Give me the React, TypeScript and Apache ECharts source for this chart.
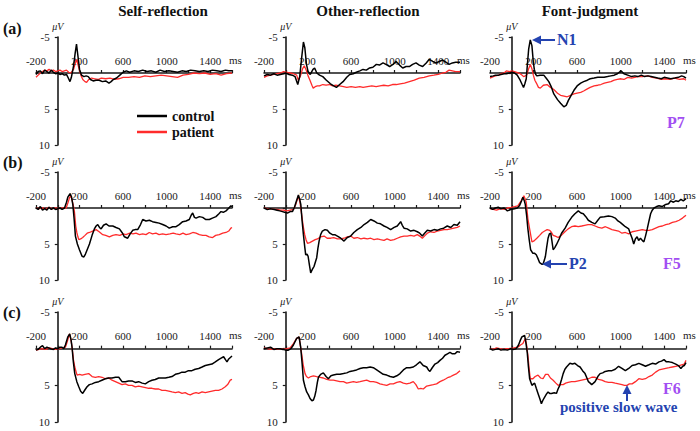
import React, { useEffect, useRef } from "react";
import * as echarts from "echarts";

// ---------- data: [time (ms), amplitude (µV)] ----------
const selfA_control = [[-200,0.2],[-180,-0.2],[-160,-0.3],[-140,0.1],[-120,-0.4],[-100,-0.2],[-80,0.0],[-60,-0.4],[-40,-0.1],[-20,0.1],[0,0.0],[20,0.2],[40,0.1],[60,0.3],[80,0.2],[100,0.8],[112,1.2],[125,0.6],[145,-1.0],[160,-2.8],[172,-4.0],[184,-2.5],[200,-0.5],[218,0.3],[240,0.5],[260,0.4],[280,0.5],[300,0.9],[325,1.1],[350,1.0],[380,1.0],[410,1.2],[440,1.1],[470,1.4],[490,1.2],[510,0.9],[540,0.7],[570,0.3],[600,-0.1],[630,-0.3],[660,-0.1],[700,-0.3],[740,-0.2],[780,-0.4],[820,-0.2],[860,-0.3],[900,-0.1],[940,-0.4],[980,-0.2],[1020,-0.3],[1060,-0.2],[1100,-0.1],[1140,-0.3],[1180,-0.2],[1220,-0.4],[1260,-0.3],[1300,-0.2],[1340,-0.3],[1380,-0.2],[1420,-0.4],[1460,-0.3],[1500,-0.2],[1540,-0.4],[1570,-0.3],[1600,-0.3]];
const selfA_patient = [[-200,0.6],[-180,0.3],[-160,0.0],[-140,-0.2],[-120,-0.4],[-100,-0.3],[-80,-0.5],[-60,-0.3],[-40,-0.4],[-20,-0.2],[0,-0.3],[20,-0.4],[40,-0.2],[60,-0.3],[80,-0.4],[100,-0.1],[120,0.0],[145,-0.5],[160,-1.3],[172,-1.9],[185,-1.2],[198,-0.4],[215,0.4],[230,0.9],[250,1.2],[265,1.3],[285,0.9],[310,0.7],[340,0.8],[370,0.9],[400,0.7],[440,0.8],[480,0.7],[520,0.9],[560,0.8],[600,0.6],[650,0.6],[700,0.5],[750,0.6],[800,0.4],[850,0.5],[900,0.4],[950,0.3],[1000,0.4],[1050,0.5],[1100,0.6],[1150,0.3],[1200,0.2],[1250,0.0],[1300,0.1],[1350,0.0],[1400,0.2],[1450,0.1],[1500,0.3],[1550,0.1],[1600,0.0]];

const otherA_control = [[-200,0.4],[-170,0.2],[-140,0.3],[-110,0.1],[-80,0.3],[-50,0.2],[-20,0.1],[0,0.0],[30,0.2],[60,0.3],[85,0.5],[110,1.6],[128,0.5],[145,-2.0],[162,-4.3],[175,-3.5],[190,-1.2],[205,-0.2],[225,0.2],[250,-0.5],[265,-0.7],[285,0.0],[310,0.3],[340,0.5],[373,1.0],[410,1.5],[440,1.8],[465,2.0],[495,1.6],[526,1.2],[560,0.6],[587,0.2],[620,0.1],[648,-0.1],[680,-0.3],[709,-0.5],[740,-0.4],[770,-0.7],[800,-0.8],[832,-1.2],[860,-1.1],[893,-1.4],[920,-1.2],[954,-0.9],[985,-1.2],[1013,-1.6],[1045,-1.1],[1074,-0.7],[1105,-0.9],[1135,-0.9],[1165,-1.2],[1196,-1.4],[1226,-1.1],[1257,-0.9],[1290,-1.4],[1318,-1.9],[1350,-1.6],[1379,-1.4],[1410,-1.6],[1440,-1.8],[1470,-1.5],[1500,-1.2],[1530,-1.4],[1560,-1.5],[1600,-1.5]];
const otherA_patient = [[-200,0.6],[-170,0.4],[-140,0.3],[-110,0.2],[-80,0.1],[-50,0.0],[-20,-0.2],[10,-0.1],[40,0.0],[70,0.1],[100,0.3],[115,1.0],[135,0.4],[155,-0.6],[170,-1.0],[185,-0.5],[205,0.4],[222,1.0],[240,1.7],[252,2.1],[270,1.9],[290,1.8],[310,1.8],[340,1.6],[370,1.7],[400,1.6],[430,1.8],[460,1.7],[495,1.8],[530,1.9],[560,2.0],[600,1.9],[640,2.0],[680,1.9],[710,2.0],[750,1.9],[790,1.8],[830,1.9],[865,1.8],[900,1.7],[940,1.8],[980,1.6],[1015,1.6],[1050,1.5],[1090,1.4],[1135,1.2],[1180,1.0],[1226,0.7],[1270,0.6],[1318,0.4],[1360,0.3],[1400,0.2],[1440,0.0],[1470,-0.1],[1500,-0.4],[1530,-0.3],[1560,-0.2],[1600,-0.2]];

const fontA_control = [[-200,0.5],[-170,0.4],[-150,0.3],[-120,0.3],[-100,0.2],[-70,0.1],[-50,0.1],[-20,0.0],[0,-0.1],[25,0.0],[50,0.3],[77,1.0],[95,1.6],[108,2.0],[120,1.5],[133,0.8],[145,-1.5],[155,-3.3],[170,-4.6],[185,-3.8],[198,-1.5],[207,-0.5],[220,0.2],[232,0.4],[260,0.3],[294,0.3],[320,0.8],[340,1.2],[365,2.0],[386,2.9],[420,3.7],[448,4.2],[478,4.7],[500,4.5],[520,3.8],[545,3.1],[571,2.4],[600,1.8],[633,1.4],[660,1.2],[694,1.0],[720,0.8],[756,0.7],[790,0.6],[820,0.6],[848,0.6],[880,0.5],[910,0.4],[941,0.3],[970,0.1],[1003,-0.3],[1030,0.1],[1065,0.3],[1100,0.5],[1130,0.4],[1157,0.5],[1190,0.3],[1220,0.5],[1250,0.4],[1280,0.5],[1310,0.6],[1340,0.7],[1373,0.8],[1400,0.6],[1430,0.7],[1460,0.8],[1497,0.7],[1530,0.6],[1560,0.4],[1580,0.5],[1600,0.7]];
const fontA_patient = [[-200,0.7],[-170,0.5],[-150,0.4],[-120,0.3],[-100,0.1],[-70,0.0],[-50,-0.3],[-20,-0.2],[0,-0.3],[25,-0.2],[46,-0.1],[77,0.1],[95,0.3],[108,0.5],[125,0.4],[139,0.2],[155,-0.6],[170,-1.2],[185,-0.6],[198,0.3],[212,1.0],[226,1.4],[245,2.0],[262,2.1],[290,1.7],[324,1.6],[355,2.0],[386,2.3],[420,2.8],[448,3.1],[480,3.2],[509,3.3],[540,3.1],[571,2.9],[600,2.8],[633,2.7],[660,2.5],[694,2.2],[720,2.0],[756,1.8],[790,1.7],[818,1.6],[850,1.4],[879,1.3],[910,1.2],[941,1.0],[970,0.9],[1003,0.8],[1030,0.9],[1065,0.6],[1100,0.7],[1130,0.6],[1157,0.5],[1200,0.5],[1250,0.4],[1290,0.6],[1330,0.7],[1373,0.9],[1410,0.8],[1450,0.9],[1497,0.7],[1540,0.9],[1580,0.8],[1600,1.0]];

const selfB_control = [[-200,0.0],[-180,0.2],[-160,-0.2],[-140,0.3],[-120,0.1],[-100,0.3],[-80,-0.1],[-60,0.2],[-40,0.0],[-20,0.2],[0,0.1],[20,0.0],[40,0.2],[62,0.0],[80,-0.8],[92,-1.5],[113,-2.0],[125,-1.6],[138,-0.5],[150,1.5],[162,3.9],[180,5.0],[199,5.8],[223,6.7],[240,6.8],[254,6.4],[270,5.8],[291,5.0],[315,3.8],[336,2.9],[352,2.5],[367,2.3],[383,2.7],[398,2.9],[420,2.4],[444,2.2],[470,2.5],[505,2.5],[535,2.7],[566,2.9],[590,3.4],[612,4.0],[642,4.2],[665,3.6],[688,3.1],[710,3.0],[734,3.0],[760,2.3],[780,1.6],[810,1.8],[841,1.7],[870,1.9],[902,2.0],[930,2.1],[963,2.3],[995,2.5],[1024,2.8],[1055,2.6],[1086,2.6],[1115,2.3],[1147,1.9],[1178,1.8],[1208,1.6],[1225,1.0],[1239,0.7],[1255,1.3],[1270,1.4],[1300,1.2],[1331,1.3],[1360,1.6],[1392,1.6],[1420,1.4],[1453,1.2],[1480,0.8],[1499,0.5],[1520,0.6],[1545,0.4],[1565,0.1],[1590,-0.3],[1600,-0.2]];
const selfB_patient = [[-200,0.0],[-170,0.1],[-140,0.0],[-110,0.1],[-80,-0.1],[-50,0.1],[-20,0.0],[10,0.1],[40,0.0],[77,0.0],[95,-0.8],[107,-1.4],[118,-1.7],[130,-1.2],[145,-0.2],[153,0.5],[165,2.5],[175,3.4],[185,4.0],[193,4.4],[210,4.3],[229,4.1],[250,3.8],[270,3.5],[291,3.4],[320,3.2],[352,3.0],[380,3.3],[413,3.7],[440,3.8],[474,4.0],[505,3.8],[535,3.7],[570,3.8],[600,3.6],[627,3.7],[660,3.5],[690,3.6],[719,3.5],[750,3.7],[780,3.6],[810,3.7],[840,3.4],[870,3.6],[902,3.5],[930,3.7],[963,3.6],[994,3.7],[1030,3.6],[1060,3.5],[1086,3.6],[1120,3.7],[1150,3.5],[1178,3.7],[1210,3.6],[1240,3.4],[1270,3.5],[1300,3.7],[1331,3.8],[1361,3.8],[1390,4.0],[1422,4.1],[1450,3.8],[1483,3.7],[1515,3.5],[1545,3.4],[1570,3.2],[1590,2.8],[1600,2.7]];

const otherB_control = [[-200,0.0],[-170,0.2],[-140,0.1],[-106,0.2],[-80,0.3],[-55,0.4],[-31,0.5],[-10,0.6],[15,0.7],[40,0.5],[61,0.5],[80,-0.1],[92,-0.7],[116,-1.8],[128,-1.2],[138,-0.5],[150,1.8],[162,3.7],[175,5.5],[183,6.5],[195,6.4],[205,6.7],[218,8.0],[229,9.0],[245,8.5],[260,8.1],[272,7.5],[284,6.9],[295,5.6],[306,4.6],[320,3.7],[336,3.2],[360,3.0],[382,3.1],[405,3.5],[428,3.7],[450,3.7],[474,3.9],[505,4.2],[535,4.6],[565,4.1],[596,3.9],[625,3.4],[657,3.0],[690,2.7],[719,2.3],[750,2.0],[780,1.6],[810,1.8],[841,2.1],[870,2.2],[902,2.5],[930,2.7],[963,3.0],[995,2.7],[1024,2.5],[1040,2.2],[1055,1.9],[1070,2.4],[1086,2.8],[1115,2.9],[1147,3.2],[1178,3.1],[1208,3.3],[1230,3.5],[1254,3.9],[1275,3.5],[1300,3.1],[1330,3.2],[1361,3.0],[1390,3.1],[1422,2.9],[1450,2.8],[1483,2.5],[1515,2.7],[1544,2.3],[1575,2.4],[1600,1.9]];
const otherB_patient = [[-200,0.0],[-170,0.1],[-140,0.1],[-110,0.2],[-80,0.2],[-50,0.3],[-20,0.3],[10,0.4],[40,0.3],[70,0.2],[92,-0.5],[116,-1.7],[130,-0.8],[144,0.7],[160,2.5],[174,3.7],[186,4.4],[199,4.9],[220,4.8],[245,4.6],[270,4.4],[291,4.3],[320,4.0],[352,3.9],[380,4.2],[413,4.2],[440,4.1],[474,4.3],[505,4.3],[535,4.2],[565,4.0],[596,3.9],[625,4.2],[657,4.1],[690,4.3],[719,4.2],[750,4.3],[780,4.2],[810,4.4],[841,4.3],[870,4.4],[902,4.5],[930,4.3],[963,4.5],[995,4.4],[1024,4.2],[1055,4.0],[1086,3.9],[1115,3.9],[1147,3.8],[1178,3.9],[1208,3.7],[1230,3.9],[1254,4.2],[1280,3.8],[1300,3.5],[1331,3.3],[1361,3.4],[1390,3.2],[1422,3.1],[1453,3.0],[1483,3.0],[1515,2.9],[1544,2.8],[1575,2.7],[1600,2.5]];

const fontB_control = [[-200,0.0],[-175,0.2],[-150,0.0],[-125,-0.1],[-100,0.1],[-70,0.0],[-40,0.4],[-10,0.2],[25,0.1],[50,0.0],[70,-0.3],[90,-1.0],[102,-1.5],[115,-1.0],[124,-0.5],[136,1.0],[148,2.9],[160,4.4],[173,5.8],[194,6.3],[210,6.3],[225,6.5],[240,7.0],[256,7.6],[275,7.8],[287,7.8],[300,7.2],[309,6.7],[320,5.5],[333,4.2],[345,3.6],[358,3.5],[368,4.5],[380,5.8],[395,5.5],[410,5.1],[435,4.3],[457,3.5],[490,2.8],[518,2.0],[550,1.3],[580,0.8],[611,0.4],[635,0.7],[657,0.8],[680,1.2],[703,1.7],[735,2.0],[765,2.2],[790,1.7],[811,1.3],[850,1.2],[888,1.1],[920,1.2],[950,1.4],[975,1.8],[996,2.0],[1020,2.3],[1043,2.6],[1074,2.9],[1090,3.6],[1105,4.2],[1120,5.0],[1135,4.3],[1151,4.0],[1165,4.5],[1182,4.2],[1198,4.5],[1213,4.7],[1228,3.9],[1244,2.9],[1260,1.8],[1275,0.8],[1290,0.3],[1306,0.0],[1330,-0.2],[1352,-0.3],[1380,-0.2],[1414,-0.5],[1440,-0.6],[1460,-1.0],[1485,-0.8],[1506,-1.0],[1530,-0.9],[1553,-1.2],[1575,-1.0],[1600,-1.3]];
const fontB_patient = [[-200,0.1],[-170,0.2],[-140,0.3],[-100,0.1],[-70,0.2],[-40,0.0],[-7,-0.1],[25,-0.2],[55,-0.3],[86,-1.0],[111,-1.7],[122,-1.3],[133,-0.8],[148,1.5],[164,2.9],[185,4.7],[200,4.6],[210,4.5],[230,4.2],[256,3.8],[280,3.4],[302,3.2],[325,3.0],[349,3.1],[365,3.4],[380,3.8],[400,3.9],[426,4.1],[455,3.8],[488,3.3],[518,2.9],[549,2.6],[580,2.5],[611,2.6],[642,2.5],[670,2.4],[700,2.3],[734,2.3],[765,2.5],[796,2.7],[827,2.8],[860,2.6],[890,2.8],[920,3.0],[950,3.1],[980,3.2],[1012,3.5],[1043,3.4],[1074,3.6],[1105,3.3],[1136,3.2],[1167,3.1],[1198,3.0],[1230,3.1],[1260,3.1],[1290,3.0],[1321,2.8],[1352,2.6],[1383,2.5],[1414,2.3],[1445,2.2],[1475,2.0],[1506,1.9],[1537,1.7],[1568,1.4],[1600,1.0]];

const selfC_control = [[-200,0.2],[-180,0.1],[-160,-0.2],[-140,-0.4],[-120,0.0],[-100,-0.2],[-66,0.0],[-40,0.1],[-20,-0.1],[0,0.0],[20,-0.2],[39,-0.2],[55,0.0],[70,-0.5],[92,-1.6],[110,-2.0],[122,-1.2],[131,-0.2],[143,1.8],[156,3.4],[175,4.5],[193,5.2],[210,5.8],[229,6.1],[250,5.6],[269,5.2],[290,4.9],[315,4.8],[345,4.6],[376,4.5],[405,4.3],[437,4.1],[468,4.0],[498,4.0],[530,3.9],[560,3.9],[590,4.5],[621,4.5],[650,4.4],[682,4.4],[712,4.6],[743,4.5],[775,4.7],[804,4.8],[835,4.5],[865,4.3],[895,4.2],[927,4.0],[958,4.0],[988,4.0],[1020,3.9],[1049,3.8],[1080,3.5],[1110,3.4],[1140,3.2],[1171,3.2],[1200,3.0],[1232,3.0],[1262,2.8],[1294,2.7],[1325,2.5],[1355,2.3],[1385,2.2],[1416,2.1],[1447,1.8],[1477,1.5],[1500,1.3],[1523,1.1],[1540,1.5],[1554,1.8],[1570,1.4],[1600,1.0]];
const selfC_patient = [[-200,0.2],[-170,0.1],[-140,0.0],[-110,0.1],[-80,-0.1],[-50,0.0],[-20,0.1],[10,0.0],[40,-0.1],[70,-0.2],[86,-0.9],[107,-2.0],[120,-1.3],[131,-0.2],[144,1.5],[156,2.5],[177,3.6],[200,3.5],[223,3.6],[250,3.5],[284,3.4],[315,3.8],[345,3.9],[376,3.8],[407,3.9],[437,4.1],[468,4.0],[498,4.3],[529,4.5],[560,4.7],[590,4.9],[620,4.8],[650,5.0],[682,5.0],[712,5.2],[743,5.1],[774,5.2],[805,5.3],[835,5.4],[865,5.4],[895,5.5],[927,5.5],[957,5.7],[988,5.7],[1020,5.8],[1049,5.9],[1080,6.0],[1110,5.9],[1141,6.1],[1170,6.0],[1195,6.2],[1217,6.3],[1245,6.1],[1270,6.0],[1294,6.1],[1325,5.9],[1355,6.0],[1385,5.9],[1416,5.8],[1447,5.7],[1477,5.7],[1508,5.5],[1538,5.2],[1560,4.9],[1584,4.3],[1600,4.2]];

const otherC_control = [[-200,0.0],[-170,-0.1],[-140,-0.2],[-110,0.1],[-80,0.0],[-52,0.0],[-25,0.1],[0,0.2],[24,0.2],[48,0.0],[70,-0.5],[100,-1.4],[122,-1.6],[137,-0.2],[150,2.0],[162,4.3],[177,5.2],[192,5.9],[208,6.3],[223,6.8],[240,7.1],[254,7.0],[266,6.5],[278,5.7],[290,4.6],[300,3.9],[320,3.5],[345,3.3],[370,3.8],[391,4.1],[415,3.7],[437,3.6],[468,3.5],[498,3.5],[530,3.4],[560,3.3],[590,3.1],[621,3.0],[650,2.9],[682,2.7],[712,2.6],[743,2.6],[775,2.5],[804,2.6],[835,2.9],[865,3.2],[895,3.5],[927,3.6],[958,3.8],[988,3.9],[1020,3.7],[1049,3.4],[1080,2.9],[1110,2.6],[1140,2.6],[1171,2.5],[1200,2.2],[1232,1.8],[1262,2.3],[1294,2.5],[1310,2.9],[1324,3.1],[1345,2.6],[1370,2.1],[1395,1.9],[1416,1.6],[1440,1.3],[1462,0.9],[1485,0.7],[1508,0.5],[1530,0.7],[1554,0.7],[1575,0.4],[1600,0.5]];
const otherC_patient = [[-200,-0.1],[-170,0.0],[-140,0.1],[-110,0.0],[-80,0.1],[-50,0.0],[-20,0.1],[10,0.0],[40,-0.1],[70,-0.7],[100,-1.4],[122,-1.6],[135,-0.3],[146,0.7],[160,2.2],[177,3.4],[190,3.8],[208,4.0],[230,3.8],[254,3.7],[284,3.8],[315,3.9],[345,4.0],[376,4.2],[407,4.3],[437,4.3],[468,4.4],[498,4.5],[530,4.5],[560,4.7],[590,4.6],[621,4.5],[650,4.6],[682,4.5],[712,4.4],[743,4.3],[775,4.5],[804,4.5],[835,4.6],[865,4.8],[895,4.9],[927,5.0],[958,4.8],[988,4.8],[1020,4.6],[1049,4.5],[1080,4.7],[1110,4.8],[1140,4.7],[1171,4.5],[1195,4.9],[1217,5.5],[1240,5.4],[1263,5.5],[1294,5.1],[1324,5.0],[1355,4.9],[1385,4.8],[1416,4.5],[1446,4.3],[1470,4.1],[1493,3.9],[1515,3.8],[1539,3.6],[1570,3.4],[1600,3.0]];

const fontC_control = [[-200,0.0],[-175,0.2],[-150,0.1],[-125,0.0],[-100,0.2],[-70,0.1],[-40,0.2],[-10,0.0],[20,0.1],[40,0.0],[62,-0.5],[80,-1.2],[93,-1.6],[118,-1.8],[130,-0.8],[142,0.5],[153,2.5],[164,4.1],[185,5.0],[200,4.8],[210,4.7],[225,5.4],[241,6.1],[257,6.8],[272,7.5],[287,7.0],[302,6.6],[318,6.2],[333,5.9],[348,6.1],[364,6.1],[390,6.0],[410,6.1],[425,5.5],[441,5.0],[457,4.2],[472,3.4],[488,2.8],[503,2.5],[534,2.0],[557,2.1],[580,2.0],[604,2.3],[627,2.5],[650,3.0],[673,3.4],[690,4.0],[704,4.5],[720,4.7],[734,4.9],[750,4.7],[765,4.5],[790,3.8],[811,3.4],[835,3.3],[858,3.1],[890,3.0],[920,3.0],[950,2.8],[981,2.4],[1012,2.7],[1043,3.0],[1074,2.7],[1105,2.3],[1136,2.2],[1167,2.0],[1198,2.2],[1228,2.4],[1260,2.2],[1290,2.0],[1321,2.1],[1352,1.8],[1375,1.7],[1398,1.5],[1420,1.8],[1445,1.8],[1475,1.9],[1506,2.1],[1530,2.3],[1553,2.7],[1570,2.4],[1584,2.3],[1600,1.9]];
const fontC_patient = [[-200,0.0],[-170,0.1],[-140,-0.1],[-110,0.0],[-80,0.1],[-50,0.0],[-20,0.0],[20,-0.1],[55,-0.2],[80,-0.5],[102,-0.7],[124,-1.4],[136,-0.5],[148,0.9],[160,2.8],[170,4.1],[194,4.1],[215,3.8],[241,3.6],[265,4.0],[287,4.1],[310,3.5],[333,3.5],[355,4.0],[380,4.3],[405,4.7],[426,5.0],[450,4.9],[472,4.9],[495,4.7],[518,4.6],[549,4.5],[580,4.5],[611,4.4],[642,4.3],[673,4.2],[704,4.1],[735,3.9],[765,3.9],[796,4.2],[827,4.3],[858,4.5],[888,4.6],[920,4.6],[950,4.7],[981,4.8],[1012,4.9],[1035,5.0],[1058,5.0],[1080,4.8],[1105,4.8],[1136,4.5],[1167,4.1],[1198,4.2],[1228,4.1],[1260,3.8],[1290,3.6],[1321,3.2],[1352,2.9],[1383,2.8],[1414,2.7],[1445,2.6],[1475,2.5],[1506,2.4],[1537,2.3],[1560,2.2],[1584,2.1],[1600,1.6]];

// ---------- labels ----------
const columnTitles = ["Self-reflection", "Other-reflection", "Font-judgment"];
const rowLabels = ["(a)", "(b)", "(c)"];
const groupNames = ["control", "patient"];
const timeRange = [-200, 1600];
const ampRange = [-5, 10];

const panels = [
  [selfA_control, selfA_patient], [otherA_control, otherA_patient], [fontA_control, fontA_patient],
  [selfB_control, selfB_patient], [otherB_control, otherB_patient], [fontB_control, fontB_patient],
  [selfC_control, selfC_patient], [otherC_control, otherC_patient], [fontC_control, fontC_patient],
];

// ---------- layout / style ----------
const SERIF = '"Liberation Serif", "Times New Roman", serif';
const COL_LEFT = [36, 264, 490];
const COL_W = 196;
const ROW_TOP = [37, 172, 312];
const ROW_H = [108, 108, 110];
const BLUE = "#2443b0";
const PURPLE = "#a24ef2";
const RED = "#ff2b2b";
const AXIS = "#1a1a1a";

function buildOption() {
  const grid: any[] = [];
  const xAxis: any[] = [];
  const yAxis: any[] = [];
  const series: any[] = [];
  const zeroFromLeft = (COL_W * (0 - timeRange[0])) / (timeRange[1] - timeRange[0]);

  panels.forEach((p, i) => {
    const r = Math.floor(i / 3), c = i % 3;
    const zeroFromTop = (ROW_H[r] * (0 - ampRange[0])) / (ampRange[1] - ampRange[0]);
    // data grid (full time range) with the time axis moved onto the zero line
    grid.push({ left: COL_LEFT[c], top: ROW_TOP[r], width: COL_W, height: ROW_H[r], containLabel: false, outerBoundsMode: "none" });
    xAxis.push({
      type: "value", gridIndex: grid.length - 1, min: timeRange[0], max: timeRange[1], interval: 200,
      position: "top", offset: -zeroFromTop,
      axisLine: { onZero: false, lineStyle: { color: AXIS, width: 1.6 } },
      axisTick: { show: true, length: 3, lineStyle: { color: AXIS, width: 1.2 } },
      axisLabel: {
        fontFamily: SERIF, fontSize: 11, color: "#222", margin: 7,
        formatter: (v: number) => (v < 1600 && (v + 200) % 400 === 0 ? String(v) : ""),
      },
      splitLine: { show: false },
      name: "ms", nameLocation: "end", nameGap: -3,
      nameTextStyle: { fontFamily: SERIF, fontSize: 11, color: "#222", align: "left", verticalAlign: "bottom", padding: [0, 0, 8, 0] },
    });
    yAxis.push({
      type: "value", gridIndex: grid.length - 1, min: ampRange[0], max: ampRange[1], inverse: true, show: false,
      axisLine: { onZero: false },
    });
    const dataAxis = xAxis.length - 1;
    series.push({
      type: "line", name: groupNames[1], xAxisIndex: dataAxis, yAxisIndex: dataAxis, data: p[1],
      symbol: "none", lineStyle: { color: RED, width: 1.3 }, itemStyle: { color: RED }, z: 3,
    });
    series.push({
      type: "line", name: groupNames[0], xAxisIndex: dataAxis, yAxisIndex: dataAxis, data: p[0],
      symbol: "none", lineStyle: { color: "#000", width: 1.5 }, itemStyle: { color: "#000" }, z: 4,
    });

    // pre-stimulus strip (-200..0 ms): its right edge is the zero-time line, where the µV axis sits
    grid.push({ left: COL_LEFT[c], top: ROW_TOP[r], width: zeroFromLeft, height: ROW_H[r], containLabel: false, outerBoundsMode: "none" });
    xAxis.push({
      type: "value", gridIndex: grid.length - 1, min: timeRange[0], max: 0, show: false,
      axisLine: { onZero: false },
    });
    yAxis.push({
      type: "value", gridIndex: grid.length - 1, min: ampRange[0], max: ampRange[1], interval: 5, inverse: true,
      position: "right",
      axisLine: { show: true, onZero: false, lineStyle: { color: AXIS, width: 1.6 } },
      axisTick: { show: true, inside: true, length: 3, lineStyle: { color: AXIS, width: 1.2 } },
      axisLabel: { inside: true, fontFamily: SERIF, fontSize: 11, color: "#222", margin: 8, formatter: (v: number) => (v === 0 ? "" : String(v)) },
      splitLine: { show: false },
      name: "μV", nameLocation: "start", nameGap: 3,
      nameTextStyle: { fontFamily: SERIF, fontSize: 10, fontStyle: "italic", color: "#222", align: "center" },
    });
  });

  const graphic: any[] = [];
  const titleX = [163, 368, 590];
  columnTitles.forEach((t, k) => graphic.push({
    type: "text", x: titleX[k], y: 11,
    style: { text: t, font: `bold 15px ${SERIF}`, fill: "#111", textAlign: "center", textVerticalAlign: "middle" },
  }));
  const labelY = [28, 162, 312];
  rowLabels.forEach((t, k) => graphic.push({
    type: "text", x: 3, y: labelY[k],
    style: { text: t, font: `bold 16px ${SERIF}`, fill: "#111", textAlign: "left", textVerticalAlign: "middle" },
  }));
  const ann = (text: string, x: number, y: number, color: string, size = 16) => ({
    type: "text", x, y, z: 20,
    style: { text, font: `bold ${size}px ${SERIF}`, fill: color, textAlign: "left", textVerticalAlign: "middle" },
  });
  graphic.push(ann("N1", 557, 39, BLUE));
  graphic.push(ann("P7", 667, 122, PURPLE));
  graphic.push(ann("P2", 569, 263, BLUE));
  graphic.push(ann("F5", 663, 263, PURPLE));
  graphic.push(ann("F6", 663, 388, PURPLE));
  graphic.push(ann("positive slow wave", 560, 407, BLUE, 15));
  // arrows
  graphic.push({ type: "line", z: 20, shape: { x1: 555, y1: 40, x2: 539, y2: 40 }, style: { stroke: BLUE, lineWidth: 2 } });
  graphic.push({ type: "polygon", z: 20, shape: { points: [[532, 40], [541, 35.5], [541, 44.5]] }, style: { fill: BLUE } });
  graphic.push({ type: "line", z: 20, shape: { x1: 567, y1: 264, x2: 549, y2: 264 }, style: { stroke: BLUE, lineWidth: 2 } });
  graphic.push({ type: "polygon", z: 20, shape: { points: [[542, 264], [551, 259.5], [551, 268.5]] }, style: { fill: BLUE } });
  graphic.push({ type: "line", z: 20, shape: { x1: 627, y1: 401, x2: 627, y2: 392 }, style: { stroke: BLUE, lineWidth: 2 } });
  graphic.push({ type: "polygon", z: 20, shape: { points: [[627, 385], [622.5, 394], [631.5, 394]] }, style: { fill: BLUE } });

  return {
    animation: false,
    backgroundColor: "#fff",
    textStyle: { fontFamily: SERIF },
    grid, xAxis, yAxis, series, graphic,
    legend: {
      data: groupNames, left: 132, top: 104, orient: "vertical",
      icon: "rect", itemWidth: 30, itemHeight: 2.5, itemGap: 2,
      textStyle: { fontFamily: SERIF, fontSize: 14, fontWeight: "bold", color: "#111" },
      selectedMode: false,
    },
  };
}

export default function App() {
  const ref = useRef<HTMLDivElement>(null);
  useEffect(() => {
    if (!ref.current) return;
    const chart = echarts.init(ref.current, null, { renderer: "svg" });
    chart.setOption(buildOption());
    return () => chart.dispose();
  }, []);
  return <div ref={ref} style={{ position: "fixed", left: 0, top: 0, width: 700, height: 431, background: "#fff" }} />;
}
